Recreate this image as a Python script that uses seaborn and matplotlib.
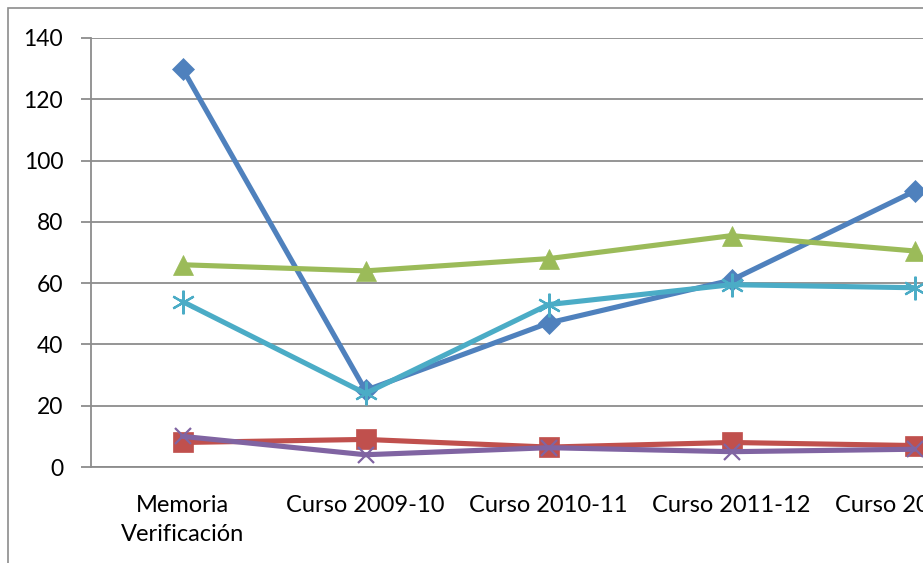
import numpy as np
import pandas as pd
import seaborn as sns
import matplotlib.pyplot as plt
from matplotlib.patches import Rectangle

categories = ["Memoria\nVerificación", "Curso 2009-10", "Curso 2010-11",
              "Curso 2011-12", "Curso 2012-13"]
serie1 = [130, 25, 47, 61, 90]
serie2 = [8, 9, 6.5, 8, 7]
serie3 = [66, 64, 68, 75.5, 70.5]
serie4 = [10, 4, 6.3, 5, 5.8]
serie5 = [54, 24, 53, 59.5, 58.5]

names = ["Serie 1", "Serie 2", "Serie 3", "Serie 4", "Serie 5"]
colors = ["#4F81BD", "#C0504D", "#9BBB59", "#8064A2", "#4BACC6"]
markers = ["D", "s", "^", "x", (6, 2, 0)]
msizes = [11, 14, 15, 12, 17]

sns.set_theme(style="white")
plt.rcParams["font.family"] = ["Lato", "DejaVu Sans"]

fig = plt.figure(figsize=(9.23, 5.63), dpi=100)
W, H = 923, 563
# plot area runs past the right edge of the picture (cropped chart)
ax = fig.add_axes([91 / W, (H - 467) / H, (1006 - 91) / W, (467 - 38) / H])

# outer chart frame
fig.patches.append(Rectangle((8 / W, -0.1), 1.2, (H - 8) / H + 0.1,
                             transform=fig.transFigure, fill=False,
                             edgecolor="#8c8c8c", linewidth=1.2))

for name, vals, c, m, ms in zip(names, [serie1, serie2, serie3, serie4, serie5],
                                colors, markers, msizes):
    df = pd.DataFrame({"x": categories, "y": vals})
    mew = 1.6 if m in ("x", (6, 2, 0)) else 0.5
    sns.lineplot(data=df, x="x", y="y", ax=ax, color=c, linewidth=3.7,
                 sort=False, clip_on=False)
    ax.lines[-1].set(marker=m, markersize=ms, markeredgecolor=c,
                     markerfacecolor=c, markeredgewidth=mew)

ax.set_xlim(-0.5, len(categories) - 0.5)
ax.set_ylim(0, 140)
ax.set_yticks(np.arange(0, 141, 20))
ax.yaxis.grid(True, color="#8c8c8c", linewidth=1.3)
ax.set_axisbelow(True)
ax.set_xlabel("")
ax.set_ylabel("")

for s in ["top", "right"]:
    ax.spines[s].set_visible(False)
for s in ["left", "bottom"]:
    ax.spines[s].set_color("#8c8c8c")
    ax.spines[s].set_linewidth(1.3)

ax.set_xticks(np.arange(len(categories)))
ax.set_xticklabels(categories, fontsize=17, color="black", linespacing=1.5)
ax.set_xticks(np.arange(-0.5, len(categories)), minor=True)
ax.tick_params(axis="x", which="major", length=0, pad=20)
ax.tick_params(axis="x", which="minor", length=7, width=1.3, color="#8c8c8c",
               direction="out")
ax.tick_params(axis="y", length=7, width=1.3, color="#8c8c8c", direction="out",
               labelsize=16.5, labelcolor="black", pad=13, left=True)

fig.savefig("out.png", dpi=100)
